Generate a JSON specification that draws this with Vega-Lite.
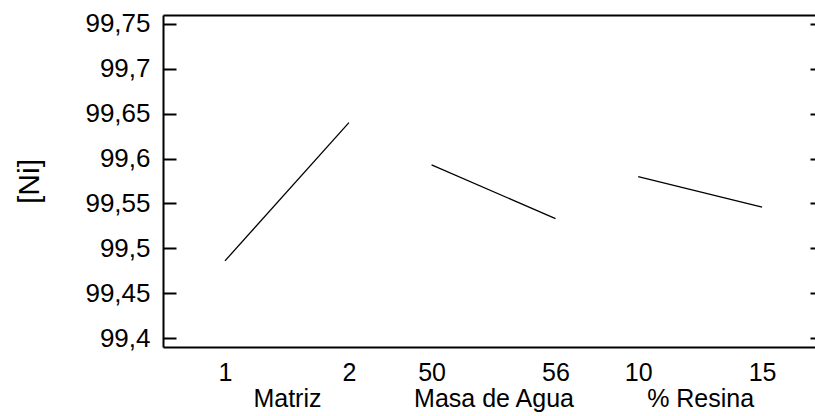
{
  "$schema": "https://vega.github.io/schema/vega-lite/v6.json",
  "autosize": "none",
  "width": 652,
  "height": 332,
  "padding": {"left": 163, "top": 15, "right": 0, "bottom": 69},
  "background": "white",
  "config": {
    "view": {"stroke": null},
    "font": "Liberation Sans",
    "axis": {"labelFont": "Liberation Sans", "titleFont": "Liberation Sans", "labelColor": "black", "titleColor": "black", "domainColor": "black", "tickColor": "black", "grid": false}
  },
  "data": {
    "values": [
      {"factor": "Matriz", "level": "1", "u": 0, "Ni": 99.486},
      {"factor": "Matriz", "level": "2", "u": 3, "Ni": 99.640},
      {"factor": "Masa de Agua", "level": "50", "u": 5, "Ni": 99.593},
      {"factor": "Masa de Agua", "level": "56", "u": 8, "Ni": 99.533},
      {"factor": "% Resina", "level": "10", "u": 10, "Ni": 99.580},
      {"factor": "% Resina", "level": "15", "u": 13, "Ni": 99.546}
    ]
  },
  "layer": [
    {
      "mark": {"type": "line", "color": "black", "strokeWidth": 1.3},
      "encoding": {
        "x": {
          "field": "u", "type": "quantitative",
          "scale": {"domain": [-1.5, 14.28], "nice": false, "zero": false},
          "axis": {
            "orient": "bottom", "title": null, "domain": true, "domainWidth": 2, "ticks": false,
            "values": [0, 3, 5, 8, 10, 13],
            "labelExpr": "datum.value==0?'1':datum.value==3?'2':datum.value==5?'50':datum.value==8?'56':datum.value==10?'10':'15'",
            "labelFontSize": 25, "labelPadding": 13, "labelOverlap": false, "labelFlush": false, "labelBaseline": "top"
          }
        },
        "y": {
          "field": "Ni", "type": "quantitative",
          "scale": {"domain": [99.39, 99.76], "nice": false, "zero": false},
          "axis": {
            "orient": "left", "title": "[Ni]", "titleFontSize": 30, "titleFontWeight": "normal", "titlePadding": 40,
            "domain": true, "domainWidth": 2, "ticks": true, "tickSize": -13, "tickWidth": 2,
            "values": [99.4, 99.45, 99.5, 99.55, 99.6, 99.65, 99.7, 99.75],
            "labelExpr": "replace(format(datum.value, '.2~f'), '.', ',')",
            "labelFontSize": 26, "labelPadding": 26
          }
        },
        "detail": {"field": "factor", "type": "nominal"}
      }
    },
    {
      "mark": {"type": "line", "color": "black", "strokeWidth": 1.3, "opacity": 0},
      "encoding": {
        "x": {
          "field": "u", "type": "quantitative",
          "scale": {"domain": [-1.5, 14.28], "nice": false, "zero": false},
          "axis": {"orient": "top", "title": null, "domain": true, "domainWidth": 2, "ticks": false, "labels": false}
        },
        "y": {
          "field": "Ni", "type": "quantitative",
          "scale": {"domain": [99.39, 99.76], "nice": false, "zero": false},
          "axis": {"orient": "right", "title": null, "domain": false, "ticks": true, "tickSize": -5, "tickWidth": 2, "labels": false,
            "values": [99.4, 99.45, 99.5, 99.55, 99.6, 99.65, 99.7, 99.75]}
        },
        "detail": {"field": "factor", "type": "nominal"}
      }
    },
    {
      "mark": {"type": "line", "color": "black", "strokeWidth": 1.3, "opacity": 0},
      "encoding": {
        "x": {
          "field": "u", "type": "quantitative",
          "scale": {"domain": [-1.5, 14.28], "nice": false, "zero": false},
          "axis": {"orient": "bottom", "title": null, "domain": false, "ticks": false,
            "values": [1.5, 6.5, 11.5],
            "labelExpr": "datum.value==1.5?'Matriz':datum.value==6.5?'Masa de Agua':'% Resina'",
            "labelFontSize": 25, "labelPadding": 39, "labelOverlap": false, "labelFlush": false, "labelBaseline": "top"}
        },
        "y": {
          "field": "Ni", "type": "quantitative",
          "scale": {"domain": [99.39, 99.76], "nice": false, "zero": false},
          "axis": null
        },
        "detail": {"field": "factor", "type": "nominal"}
      }
    }
  ],
  "resolve": {"scale": {"x": "independent", "y": "independent"}}
}
